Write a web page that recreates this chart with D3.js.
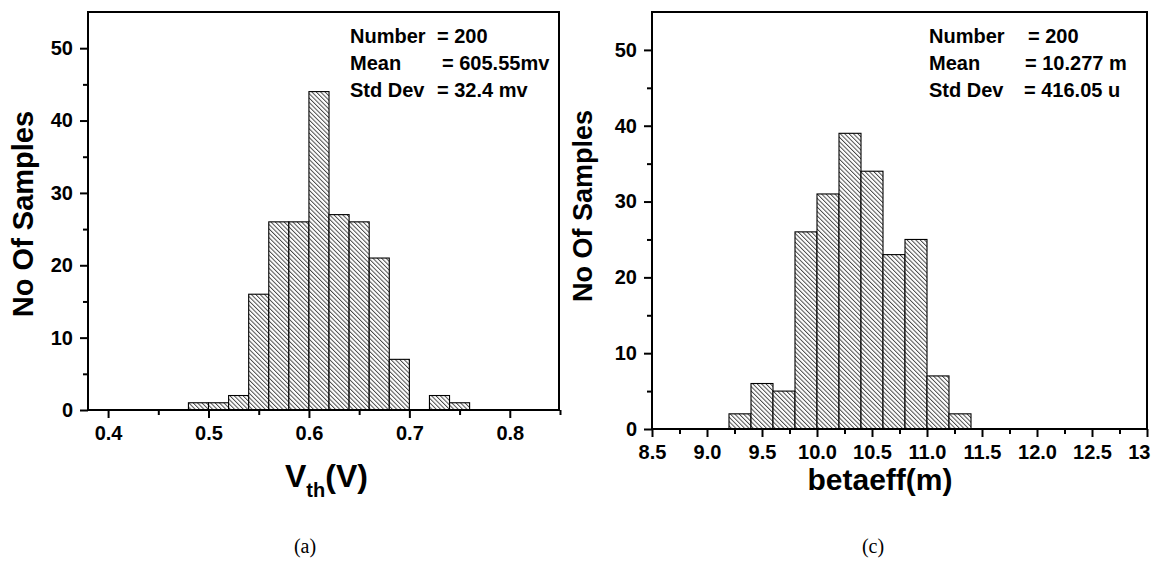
<!DOCTYPE html>
<html>
<head>
<meta charset="utf-8">
<script src="https://cdn.jsdelivr.net/npm/d3@7/dist/d3.min.js"></script>
<style>
  body { margin: 0; background: #fff; }
  svg text { font-family: "Liberation Sans", Arial, sans-serif; font-weight: bold; fill: #000; }
  svg text.caption { font-family: "Liberation Serif", "Times New Roman", serif; font-weight: normal; }
</style>
</head>
<body>
<script>
// panel (a): threshold voltage histogram
var vthBins = [0.48, 0.50, 0.52, 0.54, 0.56, 0.58, 0.60, 0.62, 0.64, 0.66, 0.68, 0.70, 0.72, 0.74];
var vthCounts = [1, 1, 2, 16, 26, 26, 44, 27, 26, 21, 7, 0, 2, 1];
var vthBinWidth = 0.02;
var vthTicks = [0.4, 0.5, 0.6, 0.7, 0.8];
var vthTickLabels = ["0.4", "0.5", "0.6", "0.7", "0.8"];
var vthMinor = [0.45, 0.55, 0.65, 0.75, 0.85];
var vthStatsNames = ["Number", "Mean", "Std Dev"];
var vthStatsValues = ["= 200", "= 605.55mv", "= 32.4 mv"];

// panel (c): betaeff histogram
var betaBins = [9.2, 9.4, 9.6, 9.8, 10.0, 10.2, 10.4, 10.6, 10.8, 11.0, 11.2];
var betaCounts = [2, 6, 5, 26, 31, 39, 34, 23, 25, 7, 2];
var betaBinWidth = 0.2;
var betaTicks = [8.5, 9.0, 9.5, 10.0, 10.5, 11.0, 11.5, 12.0, 12.5, 13.0];
var betaTickLabels = ["8.5", "9.0", "9.5", "10.0", "10.5", "11.0", "11.5", "12.0", "12.5", "13"];
var betaMinor = [8.75, 9.25, 9.75, 10.25, 10.75, 11.25, 11.75, 12.25, 12.75];
var betaStatsNames = ["Number", "Mean", "Std Dev"];
var betaStatsValues = ["= 200", "= 10.277 m", "= 416.05 u"];

var yTicks = [0, 10, 20, 30, 40, 50];
var yMinor = [5, 15, 25, 35, 45];

var svg = d3.select("body").append("svg")
    .attr("width", 1155)
    .attr("height", 572);

var defs = svg.append("defs");
var pat = defs.append("pattern")
    .attr("id", "hatch")
    .attr("patternUnits", "userSpaceOnUse")
    .attr("width", 3.1)
    .attr("height", 10)
    .attr("patternTransform", "rotate(-45)");
pat.append("rect").attr("width", 3.1).attr("height", 10).attr("fill", "#fff");
pat.append("line")
    .attr("x1", 0.5).attr("y1", 0).attr("x2", 0.5).attr("y2", 10)
    .attr("stroke", "#3a3a3a").attr("stroke-width", 0.9);

function drawPanel(p) {
    var x = d3.scaleLinear().domain(p.xDomain).range([p.left, p.right]);
    var y = d3.scaleLinear().domain([0, 55]).range([p.bottom, p.top]);
    var g = svg.append("g");

    var data = p.bins.map(function(b, i) { return { x0: b, x1: b + p.binWidth, n: p.counts[i] }; })
        .filter(function(d) { return d.n > 0; });

    g.selectAll(".bar")
        .data(data)
        .enter().append("rect")
        .attr("class", "bar")
        .attr("x", function(d) { return x(d.x0); })
        .attr("y", function(d) { return y(d.n); })
        .attr("width", function(d) { return x(d.x1) - x(d.x0); })
        .attr("height", function(d) { return y(0) - y(d.n); })
        .attr("fill", "url(#hatch)")
        .attr("stroke", "#000")
        .attr("stroke-width", 1.1);

    // minor ticks
    g.append("g")
        .attr("transform", "translate(0," + p.bottom + ")")
        .call(d3.axisBottom(x).tickValues(p.minor).tickSize(5).tickFormat(""))
        .call(function(a) { a.select(".domain").remove(); a.selectAll("line").attr("stroke-width", 2); });
    g.append("g")
        .attr("transform", "translate(" + p.left + ",0)")
        .call(d3.axisLeft(y).tickValues(yMinor).tickSize(5).tickFormat(""))
        .call(function(a) { a.select(".domain").remove(); a.selectAll("line").attr("stroke-width", 2); });

    // major ticks
    var n = p.ticks.length;
    g.append("g")
        .attr("transform", "translate(0," + p.bottom + ")")
        .call(d3.axisBottom(x).tickValues(p.ticks).tickSize(8).tickPadding(8)
            .tickFormat(function(d, i) { return p.tickLabels[i]; }))
        .call(function(a) {
            a.select(".domain").remove();
            a.selectAll("line").attr("stroke-width", 2);
            a.selectAll("text").attr("font-size", 20).style("font-family", null);
            if (p.lastEnd) {
                a.selectAll("text").filter(function(d, i) { return i === n - 1; })
                    .attr("text-anchor", "end").attr("dx", 3);
            }
        });
    g.append("g")
        .attr("transform", "translate(" + p.left + ",0)")
        .call(d3.axisLeft(y).tickValues(yTicks).tickSize(8).tickPadding(7))
        .call(function(a) {
            a.select(".domain").remove();
            a.selectAll("line").attr("stroke-width", 2);
            a.selectAll("text").attr("font-size", 20).style("font-family", null);
        });

    // frame
    g.append("rect")
        .attr("x", p.left).attr("y", p.top)
        .attr("width", p.right - p.left).attr("height", p.bottom - p.top)
        .attr("fill", "none").attr("stroke", "#000").attr("stroke-width", 2);

    // stats box
    p.statsNames.forEach(function(s, i) {
        g.append("text").attr("x", p.statX).attr("y", 43 + i * 27)
            .attr("font-size", 20).text(s);
        g.append("text").attr("x", p.eqX[i]).attr("y", 43 + i * 27)
            .attr("font-size", 20).text(p.statsValues[i]);
    });

    // y title
    g.append("text")
        .attr("transform", "translate(" + p.yTitleX + "," + p.yTitleY + ") rotate(-90)")
        .attr("text-anchor", "middle")
        .attr("font-size", p.yTitleSize)
        .text("No Of Samples");

    // caption
    svg.append("text").attr("class", "caption")
        .attr("x", p.captionX).attr("y", 553)
        .attr("text-anchor", "middle").attr("font-size", 20)
        .text(p.caption);
    return g;
}

var ga = drawPanel({
    xDomain: [0.38, 0.849], left: 88, right: 559, top: 12, bottom: 410,
    bins: vthBins, counts: vthCounts, binWidth: vthBinWidth,
    ticks: vthTicks, tickLabels: vthTickLabels, minor: vthMinor,
    statsNames: vthStatsNames, statsValues: vthStatsValues,
    statX: 350, eqX: [437, 442, 437],
    yTitleX: 33, yTitleY: 214, yTitleSize: 29,
    captionX: 305, caption: "(a)"
});
var vt = ga.append("text").attr("x", 285).attr("y", 487).attr("font-size", 32);
vt.append("tspan").text("V");
vt.append("tspan").attr("font-size", 20).attr("dy", 10).text("th");
vt.append("tspan").attr("dy", -10).text("(V)");

var gc = drawPanel({
    xDomain: [8.5, 13], left: 652, right: 1147, top: 12, bottom: 429,
    bins: betaBins, counts: betaCounts, binWidth: betaBinWidth,
    ticks: betaTicks, tickLabels: betaTickLabels, minor: betaMinor, lastEnd: true,
    statsNames: betaStatsNames, statsValues: betaStatsValues,
    statX: 929, eqX: [1028, 1025, 1024],
    yTitleX: 592, yTitleY: 206, yTitleSize: 27,
    captionX: 873, caption: "(c)"
});
gc.append("text").attr("x", 880).attr("y", 490)
    .attr("text-anchor", "middle").attr("font-size", 30)
    .text("betaeff(m)");
</script>
</body>
</html>
